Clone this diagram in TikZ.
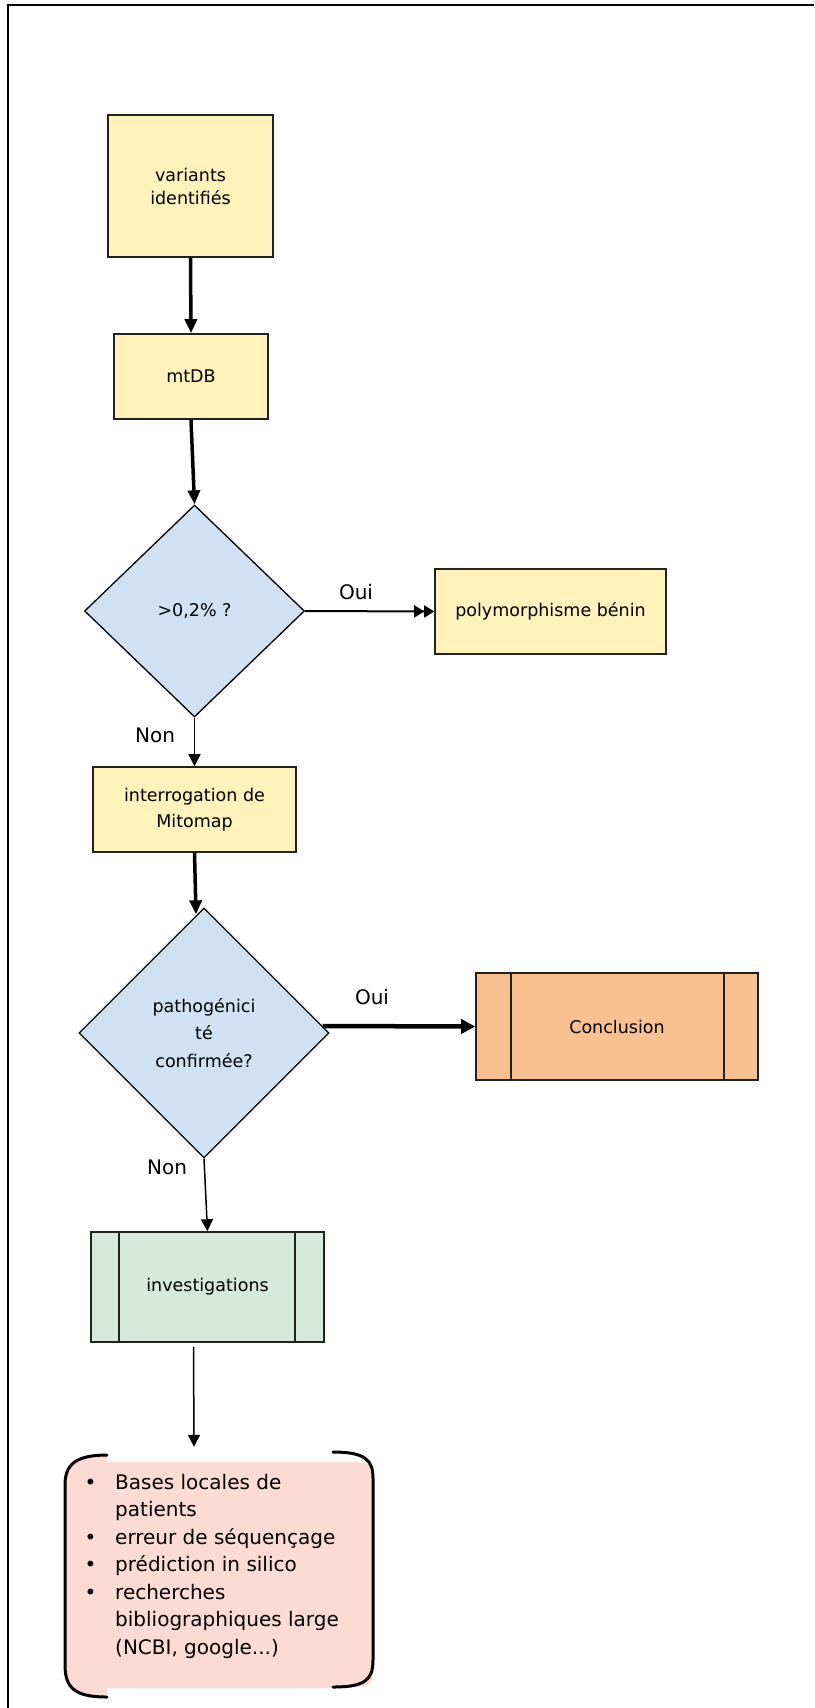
\documentclass[tikz,border=0pt]{standalone}
\usepackage{fontspec}
\setmainfont{DejaVu Sans}
\usetikzlibrary{shapes.geometric,arrows.meta}
\definecolor{yellowc}{HTML}{FFF2BA}
\definecolor{bluec}{HTML}{CFE1F2}
\definecolor{orangec}{HTML}{F9C18F}
\definecolor{greenc}{HTML}{D5E9DD}
\definecolor{pinkc}{HTML}{FBDBD3}
\definecolor{edgec}{HTML}{222222}
\begin{document}
\begin{tikzpicture}[x=1pt,y=-1pt,
  box/.style={draw=edgec, line width=1.6pt, align=center, inner sep=0pt,
    font=\fontsize{17.5}{23}\selectfont},
  ybox/.style={box, fill=yellowc},
  dia/.style={shape=diamond, draw=black, line width=1.3pt, fill=bluec, align=center,
    inner sep=0pt, font=\fontsize{17.5}{27.5}\selectfont},
  thickarr/.style={line width=3.5pt, -{Triangle[length=14pt,width=12pt]}},
  thinarr/.style={line width=1.5pt, -{Triangle[length=12pt,width=12pt]}},
  dblarr/.style={line width=2pt, -{Triangle[length=10pt,width=12pt]Triangle[length=10pt,width=12pt]}},
  lab/.style={font=\fontsize{20}{24}\selectfont, inner sep=0pt},
  bracket/.style={line width=3pt, line cap=round}
]
\useasboundingbox (0,0) rectangle (814,1708);
% frame
\draw[line width=2pt] (8,1708) -- (8,5) -- (814,5);

% nodes
\node[ybox, minimum width=165pt, minimum height=142pt] (b1) at (190.5,186) {variants\\identifiés};
\node[ybox, minimum width=154pt, minimum height=85pt] (mtdb) at (191,376.5) {mtDB};
\node[dia, minimum width=220pt, minimum height=212pt] (d1) at (194.5,611) {>0,2\% ?};
\node[ybox, minimum width=231pt, minimum height=85pt] (poly) at (550.5,611.5) {polymorphisme bénin};
\node[ybox, minimum width=203pt, minimum height=85pt, font=\fontsize{17.5}{26}\selectfont] (interr) at (194.5,809.5) {interrogation de\\Mitomap};
\node[dia, minimum width=250pt, minimum height=250pt] (d2) at (204,1033) {pathogénici\\té\\confirmée?};
\node[box, fill=orangec, minimum width=282pt, minimum height=107pt] (conc) at (617,1026.5) {Conclusion};
\draw[line width=1.5pt, edgec] ([xshift=36pt]conc.north west) -- ([xshift=36pt]conc.south west);
\draw[line width=1.5pt, edgec] ([xshift=-35pt]conc.north east) -- ([xshift=-35pt]conc.south east);
\node[box, fill=greenc, minimum width=233pt, minimum height=110pt] (inv) at (207.5,1287) {investigations};
\draw[line width=1.5pt, edgec] ([xshift=29pt]inv.north west) -- ([xshift=29pt]inv.south west);
\draw[line width=1.5pt, edgec] ([xshift=-30pt]inv.north east) -- ([xshift=-30pt]inv.south east);

% list box
\node[minimum width=312pt, minimum height=250pt, inner sep=0pt] (list) at (219,1572) {};
\fill[pinkc] (107,1462) -- (345,1462) .. controls (372,1462) .. (373,1485) -- (373,1663)
  .. controls (373,1686) .. (345,1688) -- (107,1688) -- (107,1697)
  .. controls (75,1697) and (65,1688) .. (65,1665) -- (65,1485)
  .. controls (65,1465) and (75,1455) .. (107,1455) -- cycle;
\draw[bracket] (107,1455) .. controls (75,1455) and (65,1465) .. (65,1485) -- (65,1665)
  .. controls (65,1688) and (75,1697) .. (107,1697);
\draw[bracket] (333,1452) .. controls (365,1452) and (373,1460) .. (373,1478) -- (373,1660)
  .. controls (373,1680) and (365,1687) .. (333,1687);
\node[anchor=base west, inner sep=0pt, font=\fontsize{20}{27.5}\selectfont] (listtxt) at (82,1489)
 {\begin{tabular}[t]{@{}p{33pt}@{}l@{}}
 \hspace*{2.5pt}• & Bases locales de\\
   & patients\\
 \hspace*{2.5pt}• & erreur de séquençage\\
 \hspace*{2.5pt}• & prédiction in silico\\
 \hspace*{2.5pt}• & recherches\\
   & bibliographiques large\\
   & (NCBI, google...)
 \end{tabular}};

% connectors
\draw[thickarr] (b1.south) -- (mtdb.north);
\draw[thickarr] (mtdb.south) -- (d1.north);
\draw[dblarr] (d1.east) -- (poly.west);
\draw[thinarr] (d1.south) -- (interr.north);
\draw[thickarr] (interr.south) -- ([xshift=-8pt,yshift=-7pt]d2.north);
\draw[line width=4.5pt, -{Triangle[length=14pt,width=14pt]}] ([xshift=-7pt,yshift=7pt]d2.east) -- (conc.west);
\draw[thinarr] (d2.south) -- (inv.north);
\draw[thinarr] ([xshift=-14pt,yshift=-4pt]inv.south) -- ([xshift=-25pt]list.north);

% labels
\node[lab] (oui1) at (356,592) {Oui};
\node[lab] (non1) at (155,735) {Non};
\node[lab] (oui2) at (372,997) {Oui};
\node[lab] (non2) at (167,1167) {Non};
\end{tikzpicture}
\end{document}
